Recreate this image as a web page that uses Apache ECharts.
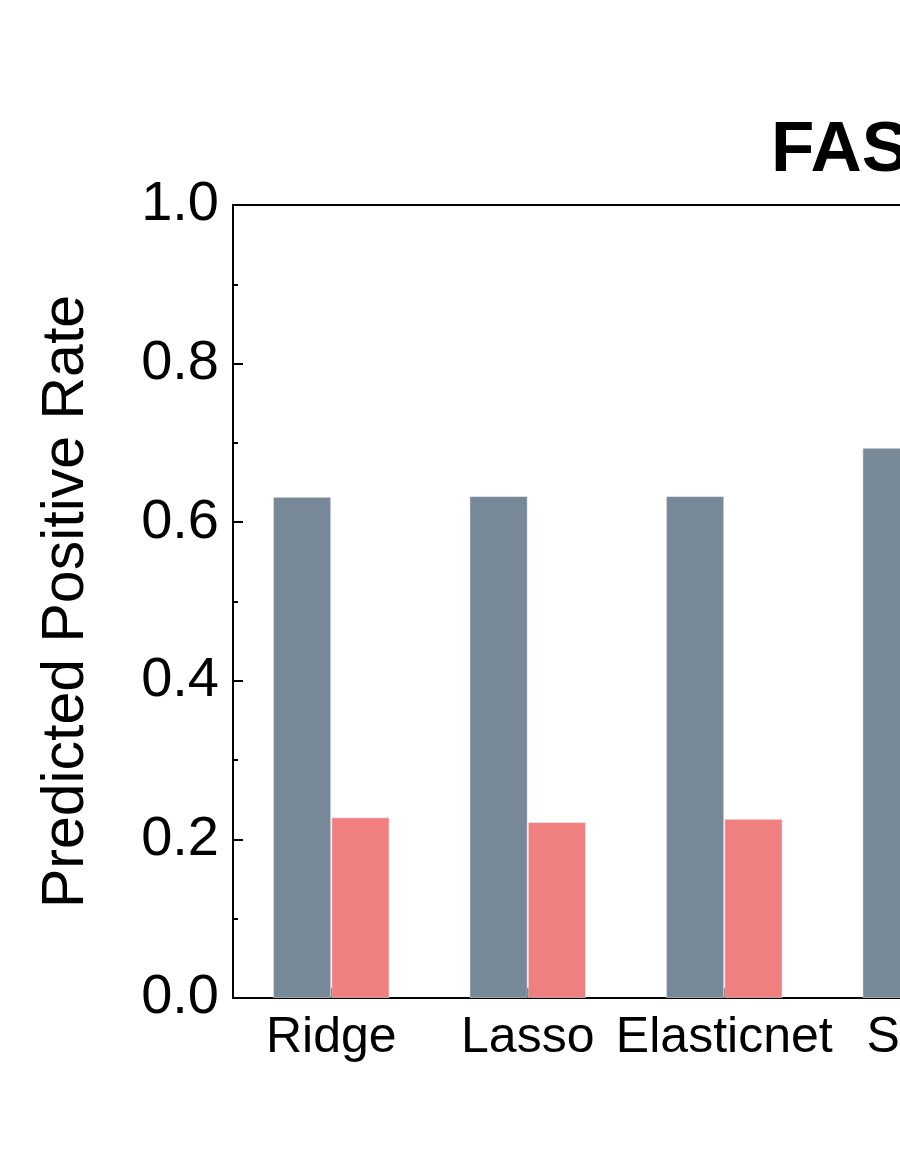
<!DOCTYPE html>
<html>
<head>
<meta charset="utf-8">
<script src="https://cdn.jsdelivr.net/npm/echarts@6/dist/echarts.min.js"></script>
<style>
html,body{margin:0;padding:0;background:#fff;overflow:hidden;}
#wrap{width:900px;height:1165px;overflow:hidden;position:relative;}
#chart{width:1100px;height:1165px;position:absolute;left:0;top:0;}
</style>
</head>
<body>
<div id="wrap"><div id="chart"></div></div>
<script>
const titleText = "FASD";
const categories = ["Ridge", "Lasso", "Elasticnet", "SVM"];
const seriesA = [0.632, 0.633, 0.633, 0.694];
const seriesB = [0.228, 0.222, 0.226, null];
const yTicks = [0.0, 0.2, 0.4, 0.6, 0.8, 1.0];

const FONT = "'Liberation Sans', Arial, Helvetica, sans-serif";
const chart = echarts.init(document.getElementById('chart'), null, {renderer: 'canvas'});
chart.setOption({
  animation: false,
  backgroundColor: '#fff',
  title: {
    text: titleText,
    left: 766,
    top: 111,
    textStyle: {fontFamily: FONT, fontSize: 71, fontWeight: 'bold', color: '#000'}
  },
  grid: {left: 233, right: 81, top: 205, bottom: 167, containLabel: false},
  xAxis: [{
    type: 'category',
    data: categories,
    position: 'bottom',
    axisLine: {show: true, onZero: false, lineStyle: {color: '#000', width: 2}},
    axisTick: {show: true, inside: true, alignWithLabel: true, length: 10, lineStyle: {color: '#000', width: 2}},
    axisLabel: {fontFamily: FONT, fontSize: 50, color: '#000', margin: 15, interval: 0},
    splitLine: {show: false}
  }, {
    type: 'category',
    data: categories,
    position: 'top',
    axisLine: {show: true, onZero: false, lineStyle: {color: '#000', width: 2}},
    axisTick: {show: false},
    axisLabel: {show: false},
    splitLine: {show: false}
  }],
  yAxis: [{
    type: 'value',
    min: 0,
    max: 1,
    interval: 0.2,
    name: 'Predicted Positive Rate',
    nameLocation: 'middle',
    nameGap: 137,
    nameTextStyle: {fontFamily: FONT, fontSize: 59, color: '#000'},
    axisLine: {show: true, lineStyle: {color: '#000', width: 2}},
    axisTick: {show: true, inside: true, length: 10, lineStyle: {color: '#000', width: 2}},
    minorTick: {show: true, splitNumber: 2, length: 5, lineStyle: {color: '#000', width: 2}},
    axisLabel: {fontFamily: FONT, fontSize: 56, color: '#000', margin: 14,
      formatter: v => v.toFixed(1)},
    splitLine: {show: false}
  }, {
    type: 'value',
    min: 0, max: 1, interval: 0.2,
    position: 'right',
    axisLine: {show: true, lineStyle: {color: '#000', width: 2}},
    axisTick: {show: false},
    axisLabel: {show: false},
    splitLine: {show: false}
  }],
  series: [{
    type: 'bar',
    data: seriesA,
    barWidth: '29.7%',
    barGap: '0%',
    itemStyle: {color: '#778899', borderColor: 'rgba(255,255,255,0.5)', borderWidth: 1}
  }, {
    type: 'bar',
    data: seriesB,
    barWidth: '29.7%',
    barGap: '0%',
    itemStyle: {color: '#F08080', borderColor: 'rgba(255,255,255,0.5)', borderWidth: 1}
  }]
});
</script>
</body>
</html>
